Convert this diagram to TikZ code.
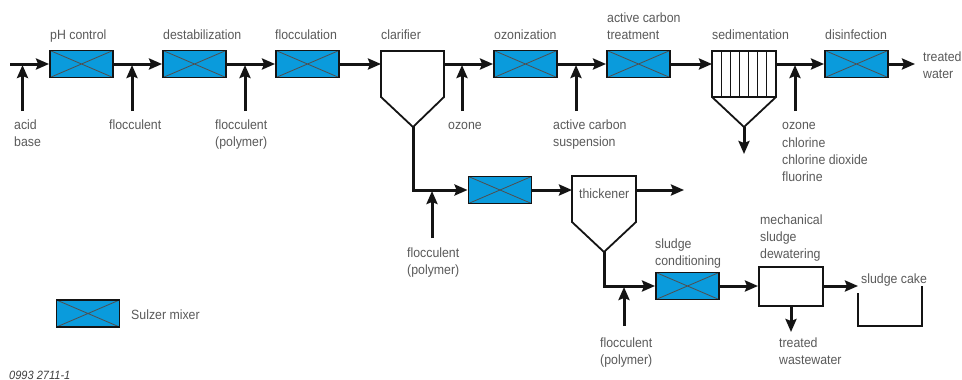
\documentclass[tikz,border=0pt]{standalone}
\usepackage{fontspec}
\setmainfont{Liberation Sans}[FakeStretch=0.92]
\usetikzlibrary{arrows.meta}
\definecolor{mixblue}{HTML}{0A9BDC}
\definecolor{labelgrey}{HTML}{5A5A5A}
\definecolor{linegrey}{HTML}{141414}
\tikzset{
  flow/.style={line width=3pt,draw=linegrey,-{Stealth[length=13pt,width=11pt,inset=2pt]}},
  pipe/.style={line width=3pt,draw=linegrey},
  vessel/.style={line width=1.8pt,draw=linegrey,line join=miter},
  mixer/.style={draw=linegrey,line width=1.9pt,fill=mixblue,inner sep=0pt,
    minimum width=63pt,minimum height=27pt,
    path picture={\draw[line width=.8pt,draw=linegrey!75]
      (path picture bounding box.north west)--(path picture bounding box.south east)
      (path picture bounding box.south west)--(path picture bounding box.north east);}},
  plainbox/.style={draw=linegrey,line width=2pt,fill=white,inner sep=0pt,minimum width=64pt,minimum height=39pt},
  lab/.style={anchor=base west,inner sep=0pt,text=labelgrey,font=\fontsize{13.4}{13.4}\selectfont},
  code/.style={anchor=base west,inner sep=0pt,text=labelgrey!70!black,font=\fontsize{12}{12}\selectfont\itshape},
}
\begin{document}
\begin{tikzpicture}[x=1pt,y=-1pt]
\useasboundingbox[fill=white] (0,0) rectangle (962,380);
% mixers
\node[mixer] (m1) at (81.5,64) {};
\node[mixer] (m2) at (194.5,64) {};
\node[mixer] (m3) at (307.5,64) {};
\node[mixer] (m4) at (525.5,64) {};
\node[mixer] (m5) at (638.5,64) {};
\node[mixer] (m6) at (856.5,64) {};
\node[mixer] (m7) at (500,190) {};
\node[mixer] (m8) at (687.5,286) {};
\node[mixer] (legend) at (88,313.5) {};
\node[plainbox] (dew) at (791,286) {};
% vessels
\coordinate (cl) at (381,64); \coordinate (cr) at (444,64); \coordinate (ca) at (413,127);
\draw[vessel] (381,51) -- (444,51) -- (444,97) -- (ca) -- (381,97) -- cycle;
\coordinate (tl) at (572,190); \coordinate (tr) at (636,190); \coordinate (ta) at (604,252);
\draw[vessel] (572,176) -- (636,176) -- (636,222) -- (ta) -- (572,222) -- cycle;
\coordinate (sl) at (712,64); \coordinate (sr) at (776,64); \coordinate (sa) at (744,127);
\draw[vessel] (712,51) -- (776,51) -- (776,97) -- (sa) -- (712,97) -- cycle;
\draw[line width=1pt,draw=linegrey] (721,51)--(721,97) (730,51)--(730,97) (739,51)--(739,97)
  (748,51)--(748,97) (757,51)--(757,97) (766,51)--(766,97);
\draw[vessel] (712,97) -- (776,97);
% tray
\draw[vessel] (858,293) -- (858,326) -- (922,326) -- (922,286);
% main line
\coordinate (start) at (10,64); \coordinate (tw) at (915,64);
\draw[flow] (start) -- (m1.west);
\draw[flow] (m1.east) -- (m2.west);
\draw[flow] (m2.east) -- (m3.west);
\draw[flow] (m3.east) -- (cl);
\draw[flow] (cr) -- (m4.west);
\draw[flow] (m4.east) -- (m5.west);
\draw[flow] (m5.east) -- (sl);
\draw[flow] (sr) -- (m6.west);
\draw[flow] (m6.east) -- (tw);
% sedimentation outlet
\coordinate (sout) at (744,154);
\draw[flow] (sa) -- (sout);
% dosing arrows
\foreach \n/\x in {a/22.5,b/132,c/245,d/462,e/576,f/795}{
  \coordinate (\n s) at (\x,111); \coordinate (\n e) at (\x,65);
  \draw[flow] (\n s) -- (\n e);
}
% sludge line
\coordinate (corner) at (413,190);
\draw[pipe,line cap=rect] (ca) -- (corner);
\draw[flow] (corner) -- (m7.west);
\draw[flow] (m7.east) -- (tl);
\coordinate (toverflow) at (684,190);
\draw[flow] (tr) -- (toverflow);
\coordinate (gs) at (432,238); \coordinate (ge) at (432,191);
\draw[flow] (gs) -- (ge);
\coordinate (corner2) at (604,286);
\draw[pipe,line cap=rect] (ta) -- (corner2);
\draw[flow] (corner2) -- (m8.west);
\draw[flow] (m8.east) -- (dew.west);
\coordinate (cake) at (858,286);
\draw[flow] (dew.east) -- (cake);
\coordinate (hs) at (624,326); \coordinate (he) at (624,287);
\draw[flow] (hs) -- (he);
\coordinate (ww) at (791,332);
\draw[flow] (dew.south) -- (ww);
% labels
\node[lab] (l1) at (50,39) {pH control};
\node[lab] (l2) at (163,39) {destabilization};
\node[lab] (l3) at (275,39) {flocculation};
\node[lab] (l4) at (381,39) {clarifier};
\node[lab] (l5) at (494,39) {ozonization};
\node[lab] (l6) at (607,22) {active carbon};
\node[lab] (l7) at (607,39) {treatment};
\node[lab] (l8) at (712,39) {sedimentation};
\node[lab] (l9) at (825,39) {disinfection};
\node[lab] (l10) at (923,61) {treated};
\node[lab] (l11) at (923,78) {water};
\node[lab] (l12) at (14,129) {acid};
\node[lab] (l13) at (14,146) {base};
\node[lab] (l14) at (109,129) {flocculent};
\node[lab] (l15) at (215,129) {flocculent};
\node[lab] (l16) at (215,146) {(polymer)};
\node[lab] (l17) at (448,129) {ozone};
\node[lab] (l18) at (553,129) {active carbon};
\node[lab] (l19) at (553,146) {suspension};
\node[lab] (l20) at (782,129) {ozone};
\node[lab] (l21) at (782,147) {chlorine};
\node[lab] (l22) at (782,164) {chlorine dioxide};
\node[lab] (l23) at (782,181) {fluorine};
\node[lab] (l24) at (579,198) {thickener};
\node[lab] (l25) at (407,257) {flocculent};
\node[lab] (l26) at (407,274) {(polymer)};
\node[lab] (l27) at (655,248) {sludge};
\node[lab] (l28) at (655,265) {conditioning};
\node[lab] (l29) at (760,224) {mechanical};
\node[lab] (l30) at (760,241) {sludge};
\node[lab] (l31) at (760,258) {dewatering};
\node[lab] (l32) at (861,283) {sludge cake};
\node[lab] (l33) at (600,347) {flocculent};
\node[lab] (l34) at (600,364) {(polymer)};
\node[lab] (l35) at (779,347) {treated};
\node[lab] (l36) at (779,364) {wastewater};
\node[lab] (l37) at (131,319) {Sulzer mixer};
\node[code] (l38) at (9,379) {0993 2711-1};
\end{tikzpicture}
\end{document}
